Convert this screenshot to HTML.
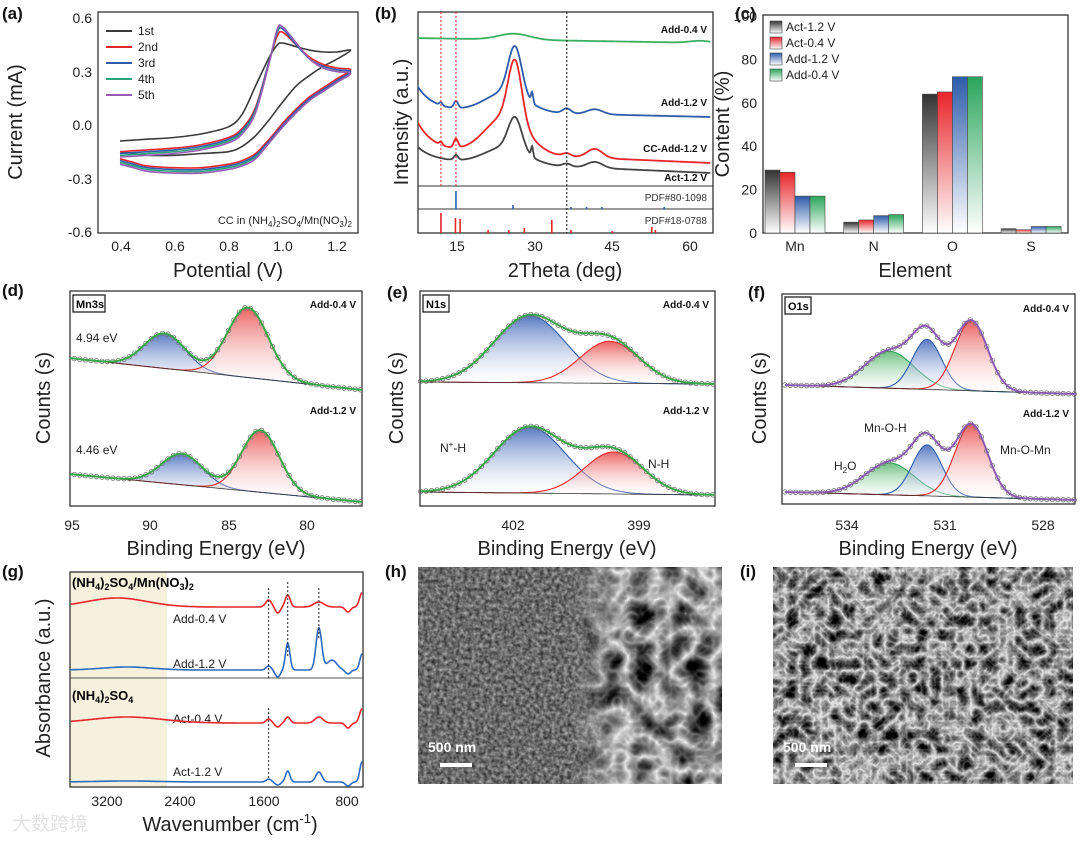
<!DOCTYPE html>
<html><head><meta charset="utf-8"><style>
body{margin:0;background:#fff;}
svg text{font-family:"Liberation Sans","Noto Sans CJK SC",sans-serif;}
.tk{font-size:14px;fill:#222;}
.ti{font-size:20px;fill:#222;}
.pl{font-size:17px;font-weight:bold;fill:#111;}
.sm{font-size:10px;font-weight:bold;fill:#111;}
.lb{font-size:12px;fill:#222;}
</style></head><body>
<svg id="fig" width="1080" height="837" viewBox="0 0 1080 837" xmlns="http://www.w3.org/2000/svg">
<defs>
<linearGradient id="gk" x1="0" y1="0" x2="0" y2="1"><stop offset="0" stop-color="#333"/><stop offset="1" stop-color="#fff"/></linearGradient>
<linearGradient id="gr" x1="0" y1="0" x2="0" y2="1"><stop offset="0" stop-color="#e8252a"/><stop offset="1" stop-color="#fff"/></linearGradient>
<linearGradient id="gb" x1="0" y1="0" x2="0" y2="1"><stop offset="0" stop-color="#2e5caa"/><stop offset="1" stop-color="#fff"/></linearGradient>
<linearGradient id="gg" x1="0" y1="0" x2="0" y2="1"><stop offset="0" stop-color="#2aa55a"/><stop offset="1" stop-color="#fff"/></linearGradient>
<linearGradient id="fr" x1="0" y1="0" x2="0" y2="1"><stop offset="0" stop-color="#e84545" stop-opacity="0.85"/><stop offset="1" stop-color="#fff" stop-opacity="0.2"/></linearGradient>
<linearGradient id="fb" x1="0" y1="0" x2="0" y2="1"><stop offset="0" stop-color="#3a62b8" stop-opacity="0.85"/><stop offset="1" stop-color="#fff" stop-opacity="0.2"/></linearGradient>
<linearGradient id="fg" x1="0" y1="0" x2="0" y2="1"><stop offset="0" stop-color="#3aaa55" stop-opacity="0.75"/><stop offset="1" stop-color="#fff" stop-opacity="0.2"/></linearGradient>
<filter id="semHL" filterUnits="userSpaceOnUse" x="418" y="567" width="304" height="217" color-interpolation-filters="sRGB"><feTurbulence type="fractalNoise" baseFrequency="0.25" numOctaves="3" seed="3"/><feColorMatrix type="matrix" values="0.7 0 0 0 0.07  0.7 0 0 0 0.07  0.7 0 0 0 0.07  0 0 0 0 1"/></filter>
<filter id="semHR" filterUnits="userSpaceOnUse" x="418" y="567" width="304" height="217" color-interpolation-filters="sRGB"><feTurbulence type="turbulence" baseFrequency="0.035" numOctaves="3" seed="11"/><feColorMatrix type="matrix" values="-1.3 0 0 0 0.95  -1.3 0 0 0 0.95  -1.3 0 0 0 0.95  0 0 0 0 1"/></filter>
<filter id="semI" filterUnits="userSpaceOnUse" x="773" y="567" width="300" height="217" color-interpolation-filters="sRGB"><feTurbulence type="turbulence" baseFrequency="0.07" numOctaves="3" seed="5"/><feColorMatrix type="matrix" values="-1.4 0 0 0 0.95  -1.4 0 0 0 0.95  -1.4 0 0 0 0.95  0 0 0 0 1"/></filter>
<linearGradient id="hmask" x1="0" y1="0" x2="1" y2="0"><stop offset="0.5" stop-color="#fff" stop-opacity="0"/><stop offset="0.65" stop-color="#fff" stop-opacity="1"/></linearGradient>
<mask id="hm"><rect x="418" y="567" width="304" height="217" fill="url(#hmask)"/></mask>
<clipPath id="cla"><rect x="98" y="12" width="260" height="221"/></clipPath>
<clipPath id="clb"><rect x="418" y="12" width="295" height="174"/></clipPath>
<clipPath id="cld"><rect x="70" y="291" width="292" height="215"/></clipPath>
</defs>

<text class="pl" x="2" y="19">(a)</text>
<text class="pl" x="375" y="19">(b)</text>
<text class="pl" x="735" y="19">(c)</text>
<text class="pl" x="2" y="296">(d)</text>
<text class="pl" x="387" y="298">(e)</text>
<text class="pl" x="748" y="298">(f)</text>
<text class="pl" x="2" y="577">(g)</text>
<text class="pl" x="385" y="577">(h)</text>
<text class="pl" x="740" y="577">(i)</text>

<g>
<rect x="98" y="12" width="260" height="221" fill="none" stroke="#333" stroke-width="1.3"/>
<text class="tk" x="92" y="23" text-anchor="end">0.6</text>
<text class="tk" x="92" y="77" text-anchor="end">0.3</text>
<text class="tk" x="92" y="130" text-anchor="end">0.0</text>
<text class="tk" x="92" y="184" text-anchor="end">-0.3</text>
<text class="tk" x="92" y="237" text-anchor="end">-0.6</text>
<text class="tk" x="121" y="251" text-anchor="middle">0.4</text>
<text class="tk" x="175" y="251" text-anchor="middle">0.6</text>
<text class="tk" x="229" y="251" text-anchor="middle">0.8</text>
<text class="tk" x="283" y="251" text-anchor="middle">1.0</text>
<text class="tk" x="337" y="251" text-anchor="middle">1.2</text>
<text class="ti" x="228" y="277" text-anchor="middle">Potential (V)</text>
<text class="ti" transform="translate(22,122) rotate(-90)" text-anchor="middle">Current (mA)</text>
<text x="352" y="224" text-anchor="end" style="font-size:11px;fill:#222">CC in (NH<tspan dy="3" font-size="8">4</tspan><tspan dy="-3">)</tspan><tspan dy="3" font-size="8">2</tspan><tspan dy="-3">SO</tspan><tspan dy="3" font-size="8">4</tspan><tspan dy="-3">/Mn(NO</tspan><tspan dy="3" font-size="8">3</tspan><tspan dy="-3">)</tspan><tspan dy="3" font-size="8">2</tspan></text>
<g id="legA"></g>
<g id="curvesA" clip-path="url(#cla)"></g>
</g>

<g>
<rect x="418" y="12" width="295" height="221" fill="none" stroke="#333" stroke-width="1.3"/>
<line x1="418" y1="186" x2="713" y2="186" stroke="#333"/>
<line x1="418" y1="209" x2="713" y2="209" stroke="#333"/>
<text class="tk" x="457" y="251" text-anchor="middle">15</text>
<text class="tk" x="535" y="251" text-anchor="middle">30</text>
<text class="tk" x="612" y="251" text-anchor="middle">45</text>
<text class="tk" x="690" y="251" text-anchor="middle">60</text>
<text class="ti" x="565" y="277" text-anchor="middle">2Theta (deg)</text>
<text class="ti" transform="translate(408,122) rotate(-90)" text-anchor="middle">Intensity (a.u.)</text>
<text class="sm" x="707" y="33" text-anchor="end">Add-0.4 V</text>
<text class="sm" x="707" y="106" text-anchor="end">Add-1.2 V</text>
<text class="sm" x="707" y="152" text-anchor="end">CC-Add-1.2 V</text>
<text class="sm" x="707" y="181" text-anchor="end">Act-1.2 V</text>
<text x="707" y="201" text-anchor="end" style="font-size:10px;fill:#333">PDF#80-1098</text>
<text x="707" y="224" text-anchor="end" style="font-size:10px;fill:#333">PDF#18-0788</text>
<g id="curvesB"></g>
</g>

<g>
<rect x="763" y="15" width="305" height="218" fill="none" stroke="#333" stroke-width="1.3"/>
<g id="ticksC"></g>
<text class="ti" x="915" y="277" text-anchor="middle">Element</text>
<text class="ti" transform="translate(729,124) rotate(-90)" text-anchor="middle">Content (%)</text>
<g id="barsC"></g>
<g id="legC"></g>
</g>

<g>
<rect x="70" y="291" width="292" height="215" fill="none" stroke="#333" stroke-width="1.3"/>
<g id="xpsD" clip-path="url(#cld)"></g>
<rect x="73" y="295" width="32" height="17" fill="#fff" stroke="#222" stroke-width="1.3"/>
<text x="76" y="308" style="font-size:11px;font-weight:bold">Mn3s</text>
<text class="sm" x="356" y="308" text-anchor="end">Add-0.4 V</text>
<text class="sm" x="356" y="414" text-anchor="end">Add-1.2 V</text>
<text class="lb" x="76" y="342">4.94 eV</text>
<text class="lb" x="76" y="454">4.46 eV</text>
<text class="tk" x="72" y="530" text-anchor="middle">95</text>
<text class="tk" x="150" y="530" text-anchor="middle">90</text>
<text class="tk" x="229" y="530" text-anchor="middle">85</text>
<text class="tk" x="307" y="530" text-anchor="middle">80</text>
<text class="ti" x="216" y="555" text-anchor="middle">Binding Energy (eV)</text>
<text class="ti" transform="translate(50,398) rotate(-90)" text-anchor="middle">Counts (s)</text>
</g>
<g>
<rect x="420" y="291" width="295" height="215" fill="none" stroke="#333" stroke-width="1.3"/>
<g id="xpsE"></g>
<rect x="423" y="295" width="26" height="17" fill="#fff" stroke="#222" stroke-width="1.3"/>
<text x="426" y="308" style="font-size:11px;font-weight:bold">N1s</text>
<text class="sm" x="709" y="308" text-anchor="end">Add-0.4 V</text>
<text class="sm" x="709" y="414" text-anchor="end">Add-1.2 V</text>
<text class="lb" x="440" y="452">N<tspan dy="-5" font-size="8">+</tspan><tspan dy="5">-H</tspan></text>
<text class="lb" x="648" y="468">N-H</text>
<text class="tk" x="513" y="530" text-anchor="middle">402</text>
<text class="tk" x="639" y="530" text-anchor="middle">399</text>
<text class="ti" x="567" y="555" text-anchor="middle">Binding Energy (eV)</text>
<text class="ti" transform="translate(403,398) rotate(-90)" text-anchor="middle">Counts (s)</text>
</g>
<g>
<rect x="782" y="294" width="293" height="210" fill="none" stroke="#333" stroke-width="1.3"/>
<g id="xpsF"></g>
<rect x="785" y="297" width="26" height="17" fill="#fff" stroke="#222" stroke-width="1.3"/>
<text x="788" y="310" style="font-size:11px;font-weight:bold">O1s</text>
<text class="sm" x="1069" y="312" text-anchor="end">Add-0.4 V</text>
<text class="sm" x="1069" y="417" text-anchor="end">Add-1.2 V</text>
<text class="lb" x="864" y="432">Mn-O-H</text>
<text class="lb" x="834" y="470">H<tspan dy="3" font-size="8">2</tspan><tspan dy="-3">O</tspan></text>
<text class="lb" x="1000" y="454">Mn-O-Mn</text>
<text class="tk" x="847" y="530" text-anchor="middle">534</text>
<text class="tk" x="945" y="530" text-anchor="middle">531</text>
<text class="tk" x="1043" y="530" text-anchor="middle">528</text>
<text class="ti" x="928" y="555" text-anchor="middle">Binding Energy (eV)</text>
<text class="ti" transform="translate(766,398) rotate(-90)" text-anchor="middle">Counts (s)</text>
</g>

<g>
<rect x="70" y="572" width="97" height="215" fill="#f6f1dc"/>
<rect x="70" y="572" width="293" height="215" fill="none" stroke="#333" stroke-width="1.3"/>
<line x1="70" y1="678" x2="363" y2="678" stroke="#555"/>
<text x="72" y="587" style="font-size:13px;font-weight:bold">(NH<tspan dy="3" font-size="9">4</tspan><tspan dy="-3">)</tspan><tspan dy="3" font-size="9">2</tspan><tspan dy="-3">SO</tspan><tspan dy="3" font-size="9">4</tspan><tspan dy="-3">/Mn(NO</tspan><tspan dy="3" font-size="9">3</tspan><tspan dy="-3">)</tspan><tspan dy="3" font-size="9">2</tspan></text>
<text x="72" y="700" style="font-size:13px;font-weight:bold">(NH<tspan dy="3" font-size="9">4</tspan><tspan dy="-3">)</tspan><tspan dy="3" font-size="9">2</tspan><tspan dy="-3">SO</tspan><tspan dy="3" font-size="9">4</tspan></text>
<text class="lb" x="173" y="623">Add-0.4 V</text>
<text class="lb" x="173" y="668">Add-1.2 V</text>
<text class="lb" x="173" y="723">Act-0.4 V</text>
<text class="lb" x="173" y="776">Act-1.2 V</text>
<text class="tk" x="107" y="806" text-anchor="middle">3200</text>
<text class="tk" x="180" y="806" text-anchor="middle">2400</text>
<text class="tk" x="264" y="806" text-anchor="middle">1600</text>
<text class="tk" x="347" y="806" text-anchor="middle">800</text>
<text class="ti" x="230" y="831" text-anchor="middle">Wavenumber (cm<tspan dy="-8" font-size="13">-1</tspan><tspan dy="8">)</tspan></text>
<text class="ti" transform="translate(50,678) rotate(-90)" text-anchor="middle">Absorbance (a.u.)</text>
<text x="12" y="830" style="font-size:19px;fill:#ddd;opacity:0.8">大数跨境</text>
<g id="curvesG"></g>
</g>

<g>
<rect x="418" y="567" width="304" height="217" filter="url(#semHL)"/>
<rect x="418" y="567" width="304" height="217" filter="url(#semHR)" mask="url(#hm)"/>
<text x="428" y="752" style="font-size:14px;font-weight:bold;fill:#fff">500 nm</text>
<rect x="440" y="763" width="32" height="4" fill="#fff"/>
</g>
<g>
<rect x="773" y="567" width="300" height="217" filter="url(#semI)"/>
<text x="783" y="752" style="font-size:14px;font-weight:bold;fill:#fff">500 nm</text>
<rect x="795" y="763" width="32" height="4" fill="#fff"/>
</g>
</svg>
<script>
const NS='http://www.w3.org/2000/svg';
// (a) CV cycles
const cvFwdV=[0.4,0.5,0.6,0.7,0.8,0.85,0.9,0.95,0.98,1.0,1.05,1.1,1.15,1.2,1.25];
const cvRevV=[1.25,1.2,1.15,1.1,1.05,1.0,0.95,0.9,0.85,0.8,0.7,0.6,0.5,0.45,0.4];
const cvNames=['1st','2nd','3rd','4th','5th'];
const cvFwd1=[-0.09,-0.08,-0.07,-0.05,-0.01,0.06,0.22,0.38,0.45,0.46,0.44,0.42,0.41,0.41,0.42];
const cvRev1=[0.40,0.37,0.33,0.28,0.22,0.13,0.03,-0.06,-0.12,-0.15,-0.16,-0.17,-0.17,-0.16,-0.15];
const cvFwd2=[-0.15,-0.14,-0.13,-0.11,-0.07,-0.02,0.10,0.36,0.50,0.52,0.45,0.38,0.34,0.32,0.31];
const cvRev2=[0.29,0.26,0.21,0.16,0.09,0.01,-0.08,-0.16,-0.20,-0.22,-0.24,-0.24,-0.23,-0.21,-0.19];
const cvFwd3=[-0.16,-0.15,-0.14,-0.12,-0.08,-0.03,0.09,0.36,0.52,0.54,0.45,0.37,0.33,0.31,0.30];
const cvRev3=[0.28,0.25,0.20,0.15,0.08,0.00,-0.09,-0.17,-0.21,-0.23,-0.25,-0.25,-0.24,-0.22,-0.20];
const cvFwd4=[-0.17,-0.16,-0.15,-0.13,-0.09,-0.04,0.08,0.35,0.53,0.55,0.46,0.37,0.32,0.30,0.29];
const cvRev4=[0.27,0.24,0.19,0.14,0.07,-0.01,-0.10,-0.18,-0.22,-0.24,-0.26,-0.26,-0.25,-0.23,-0.21];
const cvFwd5=[-0.18,-0.17,-0.16,-0.14,-0.10,-0.05,0.07,0.35,0.54,0.55,0.46,0.37,0.32,0.30,0.29];
const cvRev5=[0.27,0.24,0.19,0.14,0.07,-0.01,-0.10,-0.19,-0.23,-0.25,-0.27,-0.27,-0.26,-0.24,-0.22];
// (b) XRD
const xrdNames=['Add-0.4 V','Add-1.2 V','CC-Add-1.2 V','Act-1.2 V'];
const xrdBase=[[38,43],[110,117],[150,163],[160,173]];
const xrdDecay=[0,32,38,18];
const xrdPeaks=[
 [[26,6,3],[62,2,2]],
 [[11.9,3,0.3],[14.8,7,0.4],[24.5,20,4],[26.2,48,1.3],[29.5,10,0.2],[36.2,5,0.8],[41.6,5,1.5]],
 [[11.9,3,0.3],[14.8,9,0.4],[24.5,38,4],[26.2,60,1.3],[36.2,3,0.8],[41.6,9,1.5]],
 [[14.8,5,0.4],[24.5,17,4],[26.2,32,1.3],[29.5,10,0.2],[36.2,3,0.8],[41.6,6,1.5]]
];
const stickBlue=[[14.8,18],[25.8,4],[37,2],[40,2],[43,2],[55,2]];
const stickRed=[[11.9,20],[14.7,15],[15.6,14],[21,3],[25,3],[28,5],[33.3,13],[37,3],[45,2],[52.6,6],[53.3,3]];
// (c)
const elements=['Mn','N','O','S'];
const seriesC=['Act-1.2 V','Act-0.4 V','Add-1.2 V','Add-0.4 V'];
const valAct12=[29,5,64,2];
const valAct04=[28,6,65,1.5];
const valAdd12=[17,8,72,3];
const valAdd04=[17,8.5,72,3];
const yTicksC=[0,20,40,60,80,100];
// XPS components [center eV, height px, sigma eV]
const xpsD_top=[[89.1,35,1.3],[83.8,70,1.3]];
const xpsD_bot=[[88.0,31,1.3],[83.0,62,1.2]];
const xpsE_top=[[401.6,67,0.85],[399.7,42,0.7]];
const xpsE_bot=[[401.6,66,0.85],[399.6,42,0.7]];
const xpsF_top=[[532.7,37,0.75],[531.55,50,0.45],[530.2,70,0.5]];
const xpsF_bot=[[532.7,32,0.75],[531.55,51,0.45],[530.2,73,0.5]];
// (g) FTIR
const irNames=['Add-0.4 V','Add-1.2 V','Act-0.4 V','Act-1.2 V'];
const irBase=[607,670,723,782];
const irPeaks=[
 [[3100,9,300],[1590,7,30],[1400,12,25],[1090,5,50],[660,14,25]],
 [[3000,3,250],[1590,4,25],[1400,27,22],[1090,42,28],[960,10,50],[660,16,22]],
 [[3000,6,350],[1590,4,25],[1400,6,25],[1090,6,40],[660,14,25]],
 [[3000,1,300],[1590,3,25],[1400,11,22],[1090,10,30],[660,20,22]]
];
const irDips=[[[1500,-6,25],[800,-5,25]],[[1500,-7,25],[800,-4,25]],[[1500,-4,25],[800,-5,25]],[[1500,-3,25],[800,-4,25]]];

const gauss=(x,c,h,s)=>h*Math.exp(-(x-c)*(x-c)/(2*s*s));
function smooth(p){let d='M'+p[0][0].toFixed(1)+','+p[0][1].toFixed(1);
 for(let i=0;i<p.length-1;i++){const p0=p[i-1]||p[i],p1=p[i],p2=p[i+1],p3=p[i+2]||p2;
  d+=' C'+(p1[0]+(p2[0]-p0[0])/6).toFixed(1)+','+(p1[1]+(p2[1]-p0[1])/6).toFixed(1)+' '+(p2[0]-(p3[0]-p1[0])/6).toFixed(1)+','+(p2[1]-(p3[1]-p1[1])/6).toFixed(1)+' '+p2[0].toFixed(1)+','+p2[1].toFixed(1);}
 return d;}
function poly(p){return 'M'+p.map(q=>q[0].toFixed(1)+','+q[1].toFixed(1)).join(' L');}
function el(tag,attrs,parent){const e=document.createElementNS(NS,tag);for(const k in attrs)e.setAttribute(k,attrs[k]);parent.appendChild(e);return e;}

// (a)
const ax=v=>120+(v-0.4)/0.8*217, ay=i=>125-i*178;
const cvF=[cvFwd1,cvFwd2,cvFwd3,cvFwd4,cvFwd5], cvR=[cvRev1,cvRev2,cvRev3,cvRev4,cvRev5];
const cvCol=['#3a3a3a','#e8252a','#2e5caa','#2aa57a','#9b59b6'];
const gA=document.getElementById('curvesA'), lA=document.getElementById('legA');
for(let k=0;k<5;k++){
 const pts=cvFwdV.map((v,i)=>[ax(v),ay(cvF[k][i])]).concat(cvRevV.map((v,i)=>[ax(v),ay(cvR[k][i])]).slice(1));
 const p=el('path',{d:smooth(pts),fill:'none',stroke:cvCol[k],'stroke-width':1.6},gA);
 
 
 const ly=31+k*16;
 const ll=el('line',{x1:106,y1:ly,x2:132,y2:ly,stroke:cvCol[k],'stroke-width':2},lA);
 
 
 const lt=el('text',{x:138,y:ly+4,'font-size':12,fill:'#222'},lA);lt.textContent=cvNames[k];
 
 
}
// (b)
const bx=t=>457+(t-15)*5.18;
const gB=document.getElementById('curvesB');
const xrdCol=['#3cb062','#2e5caa','#e8252a','#444'];
for(let k=0;k<4;k++){
 const pts=[];for(let t=6.5;t<=64;t+=0.1){let y=xrdBase[k][0]+(xrdBase[k][1]-xrdBase[k][0])*(t-6.5)/57.5-xrdDecay[k]*Math.exp(-(t-6.5)/3);
  xrdPeaks[k].forEach(pk=>{y-=gauss(t,pk[0],pk[1],pk[2]);});pts.push([bx(t),y]);}
 const p=el('path',{d:poly(pts),fill:'none',stroke:xrdCol[k],'stroke-width':1.8,'clip-path':'url(#clb)'},gB);
 
 
}
[[11.9,'#e8252a'],[14.8,'#e8252a'],[36.2,'#111']].forEach(r=>{
 const l=el('line',{x1:bx(r[0]),y1:12,x2:bx(r[0]),y2:r[1]==='#111'?233:186,stroke:r[1],'stroke-width':1,'stroke-dasharray':'2,2'},gB);
 
 });
stickBlue.forEach(s=>{const l=el('line',{x1:bx(s[0]),y1:209,x2:bx(s[0]),y2:209-s[1],stroke:'#2e5caa','stroke-width':1.6},gB);
 
 });
stickRed.forEach(s=>{const l=el('line',{x1:bx(s[0]),y1:233,x2:bx(s[0]),y2:233-s[1],stroke:'#e8252a','stroke-width':1.6},gB);
 
 });
// (c)
const cy=v=>233-v*2.17, cx=i=>795+i*78.7;
const gC=document.getElementById('barsC'), tC=document.getElementById('ticksC'), lC=document.getElementById('legC');
yTicksC.forEach(v=>{const t=el('text',{x:757,y:cy(v)+5,'text-anchor':'end','font-size':14,fill:'#222'},tC);t.textContent=v;
 
 });
elements.forEach((e,i)=>{const t=el('text',{x:cx(i),y:251,'text-anchor':'middle','font-size':14,fill:'#222'},tC);t.textContent=e;
 
 });
const valsC=[valAct12,valAct04,valAdd12,valAdd04], fillC=['url(#gk)','url(#gr)','url(#gb)','url(#gg)'];
for(let s=0;s<4;s++){elements.forEach((e,i)=>{
 const x=cx(i)-30+s*15;
 const r=el('rect',{x:x,y:cy(valsC[s][i]),width:15,height:233-cy(valsC[s][i]),fill:fillC[s],stroke:'#444','stroke-width':0.6},gC);
 
 });
 const sw=el('rect',{x:770,y:21+s*16,width:12,height:12,fill:fillC[s],stroke:'#444','stroke-width':0.6},lC);
 
 
 const lt=el('text',{x:786,y:31+s*16,'font-size':12,fill:'#222'},lC);lt.textContent=seriesC[s];
 
 }
// XPS
function xps(gid,xfn,e0,e1,base0,base1,comps,fills,lines,env,label){
 const g=document.getElementById(gid);
 const N=160,xs=[];for(let i=0;i<=N;i++)xs.push(e0+(e1-e0)*i/N);
 const bl=E=>base0+(base1-base0)*(E-e0)/(e1-e0);
 comps.forEach((c,j)=>{const top=xs.map(E=>[xfn(E),bl(E)-gauss(E,c[0],c[1],c[2])]);
  const bot=xs.slice().reverse().map(E=>[xfn(E),bl(E)]);
  const a=el('path',{d:poly(top.concat(bot))+'Z',fill:fills[j],stroke:'none'},g);
  
  
  const l=el('path',{d:poly(top),fill:'none',stroke:lines[j],'stroke-width':1.1},g);
  
  });
 const b=el('path',{d:poly(xs.map(E=>[xfn(E),bl(E)])),fill:'none',stroke:'#333','stroke-width':0.8},g);
 
 
 const envf=E=>bl(E)-comps.reduce((s,c)=>s+gauss(E,c[0],c[1],c[2]),0);
 xs.forEach((E,i)=>{if(i%3===0){const c=el('circle',{cx:xfn(E),cy:envf(E),r:2.3,fill:'none',stroke:'#777','stroke-width':0.8},g);
  
  }});
 const e=el('path',{d:poly(xs.map(E=>[xfn(E),envf(E)])),fill:'none',stroke:env,'stroke-width':2},g);
 
 
}
const dX=E=>72+(95-E)*15.7, eX=E=>513+(402-E)*42, fX=E=>847+(534-E)*32.7;
xps('xpsD',dX,95.2,76.5,358,390,xpsD_top,['url(#fb)','url(#fr)'],['#2e5caa','#e8252a'],'#3aa64a','mn3s-add-0.4');
xps('xpsD',dX,95.2,76.5,474,502,xpsD_bot,['url(#fb)','url(#fr)'],['#2e5caa','#e8252a'],'#3aa64a','mn3s-add-1.2');
xps('xpsE',eX,404.2,397.2,382,384,xpsE_top,['url(#fb)','url(#fr)'],['#2e5caa','#e8252a'],'#3aa64a','n1s-add-0.4');
xps('xpsE',eX,404.2,397.2,492,495,xpsE_bot,['url(#fb)','url(#fr)'],['#2e5caa','#e8252a'],'#3aa64a','n1s-add-1.2');
xps('xpsF',fX,535.9,527,385,394,xpsF_top,['url(#fg)','url(#fb)','url(#fr)'],['#2aa55a','#2e5caa','#e8252a'],'#8a5cb0','o1s-add-0.4');
xps('xpsF',fX,535.9,527,492,500,xpsF_bot,['url(#fg)','url(#fb)','url(#fr)'],['#2aa55a','#2e5caa','#e8252a'],'#8a5cb0','o1s-add-1.2');
// (g)
const gx=w=>107+(3200-w)*0.1004;
const gG=document.getElementById('curvesG');
const irCol=['#e8252a','#2e6bc0','#e8252a','#2e6bc0'];
for(let k=0;k<4;k++){const pts=[];
 for(let w=3560;w>=650;w-=8){let y=irBase[k];irPeaks[k].forEach(p=>{y-=gauss(w,p[0],p[1],p[2]);});irDips[k].forEach(p=>{y-=gauss(w,p[0],p[1],p[2]);});pts.push([gx(w),y]);}
 const p=el('path',{d:poly(pts),fill:'none',stroke:irCol[k],'stroke-width':1.6},gG);
 
 }
[[1590,588,678],[1400,582,656],[1090,588,640],[1590,708,780]].forEach(r=>{
 const l=el('line',{x1:gx(r[0]),y1:r[1],x2:gx(r[0]),y2:r[2],stroke:'#222','stroke-width':1,'stroke-dasharray':'2,2'},gG);
 
 });
</script>
</body></html>
